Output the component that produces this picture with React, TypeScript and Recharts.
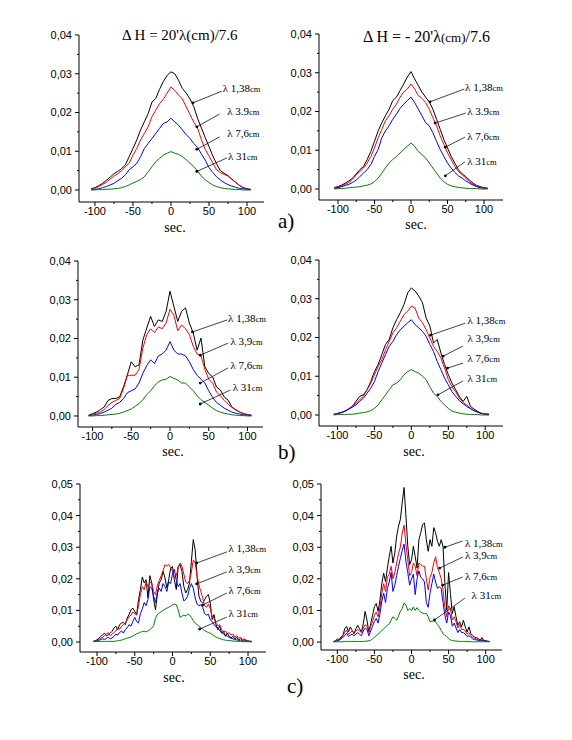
import React from 'react';
import { LineChart, Line, XAxis, YAxis, ReferenceLine, ReferenceDot } from 'recharts';

// time axis, seconds
const secFive = [
  -105, -100, -95, -90, -85, -80, -75, -70, -65, -60,
  -55, -50, -45, -40, -35, -30, -25, -20, -15, -10,
  -5, 0, 5, 10, 15, 20, 25, 30, 35, 40,
  45, 50, 55, 60, 65, 70, 75, 80, 85, 90,
  95, 100, 105,
];
const secHalf = [
  -105, -102.5, -100, -97.5, -95, -92.5, -90, -87.5, -85, -82.5,
  -80, -77.5, -75, -72.5, -70, -67.5, -65, -62.5, -60, -57.5,
  -55, -52.5, -50, -47.5, -45, -42.5, -40, -37.5, -35, -32.5,
  -30, -27.5, -25, -22.5, -20, -17.5, -15, -12.5, -10, -7.5,
  -5, -2.5, 0, 2.5, 5, 7.5, 10, 12.5, 15, 17.5,
  20, 22.5, 25, 27.5, 30, 32.5, 35, 37.5, 40, 42.5,
  45, 47.5, 50, 52.5, 55, 57.5, 60, 62.5, 65, 67.5,
  70, 72.5, 75, 77.5, 80, 82.5, 85, 87.5, 90, 92.5,
  95, 97.5, 100, 102.5, 105,
];

const xTicks = [-100, -75, -50, -25, 0, 25, 50, 75, 100];
const yTicks4 = [0, 0.005, 0.01, 0.015, 0.02, 0.025, 0.03, 0.035, 0.04];
const yTicks5 = [0, 0.005, 0.01, 0.015, 0.02, 0.025, 0.03, 0.035, 0.04, 0.045, 0.05];

// a) left, dH = 20'
const aL138 = [
  0.0003, 0.0006, 0.0011, 0.0017, 0.0025, 0.0033, 0.0042, 0.0048, 0.0055, 0.0065,
  0.0086, 0.0107, 0.0129, 0.0155, 0.0176, 0.0197, 0.0227, 0.0236, 0.026, 0.028,
  0.0296, 0.0305, 0.03, 0.0283, 0.0262, 0.025, 0.0235, 0.0215, 0.0185, 0.016,
  0.0136, 0.0112, 0.0088, 0.0068, 0.005, 0.0043, 0.0037, 0.0028, 0.002, 0.0012,
  0.0006, 0.0003, 0.0001,
];
const aL39 = [
  0.0003, 0.0005, 0.0009, 0.0014, 0.002, 0.0028, 0.0036, 0.0042, 0.005, 0.006,
  0.0069, 0.009, 0.0107, 0.0129, 0.0146, 0.0163, 0.0189, 0.0206, 0.0223, 0.0234,
  0.025, 0.0266, 0.0257, 0.0245, 0.0235, 0.0215, 0.0195, 0.0175, 0.016, 0.013,
  0.0105, 0.0088, 0.007, 0.0052, 0.0045, 0.004, 0.0036, 0.0028, 0.002, 0.0012,
  0.0006, 0.0003, 0.0002,
];
const aL76 = [
  0.0001, 0.0002, 0.0003, 0.0006, 0.0009, 0.0013, 0.0017, 0.0024, 0.003, 0.0039,
  0.0052, 0.006, 0.0069, 0.0086, 0.0107, 0.012, 0.0133, 0.0146, 0.0159, 0.0172,
  0.0176, 0.0185, 0.0176, 0.0167, 0.0155, 0.0143, 0.0133, 0.012, 0.011, 0.0093,
  0.0077, 0.0058, 0.0045, 0.0034, 0.0026, 0.0019, 0.0014, 0.001, 0.0007, 0.0004,
  0.0003, 0.0002, 0.0001,
];
const aL31 = [
  0, 0, 0.0001, 0.0001, 0.0002, 0.0002, 0.0003, 0.0004, 0.0006, 0.0009,
  0.0013, 0.0018, 0.0022, 0.0027, 0.0034, 0.0047, 0.006, 0.0073, 0.0082, 0.009,
  0.0095, 0.0099, 0.0095, 0.0092, 0.0086, 0.0078, 0.0069, 0.006, 0.0049, 0.0036,
  0.0026, 0.0019, 0.0013, 0.0009, 0.0006, 0.0004, 0.0003, 0.0002, 0.0001, 0.0001,
  0, 0, 0,
];

// a) right, dH = -20'
const aR138 = [
  0.0004, 0.0006, 0.001, 0.0015, 0.0021, 0.0028, 0.0039, 0.005, 0.0058, 0.0076,
  0.0097, 0.0123, 0.015, 0.0171, 0.0189, 0.0206, 0.0228, 0.0237, 0.0254, 0.0271,
  0.0289, 0.0303, 0.0284, 0.0267, 0.025, 0.0237, 0.0225, 0.0206, 0.018, 0.0154,
  0.0128, 0.0106, 0.0084, 0.0067, 0.005, 0.0039, 0.0032, 0.0023, 0.0015, 0.0009,
  0.0006, 0.0003, 0.0002,
];
const aR39 = [
  0.0002, 0.0004, 0.0008, 0.0012, 0.0017, 0.0025, 0.0037, 0.0045, 0.0054, 0.0067,
  0.0084, 0.0106, 0.0132, 0.0154, 0.0176, 0.0189, 0.0206, 0.0219, 0.0237, 0.025,
  0.0258, 0.0271, 0.0258, 0.0241, 0.0234, 0.0223, 0.0206, 0.0184, 0.0163, 0.0137,
  0.0115, 0.0093, 0.0076, 0.0058, 0.0045, 0.0037, 0.0028, 0.0019, 0.0012, 0.0008,
  0.0004, 0.0003, 0.0002,
];
const aR76 = [
  0.0001, 0.0003, 0.0006, 0.0009, 0.0012, 0.0017, 0.0023, 0.0032, 0.0041, 0.005,
  0.0063, 0.0084, 0.0102, 0.0132, 0.015, 0.0163, 0.018, 0.0193, 0.0208, 0.0219,
  0.0228, 0.0237, 0.0223, 0.0206, 0.0189, 0.0171, 0.0163, 0.0145, 0.0123, 0.0102,
  0.0084, 0.0067, 0.0054, 0.0043, 0.0034, 0.0028, 0.0021, 0.0015, 0.001, 0.0006,
  0.0003, 0.0002, 0.0001,
];
const aR31 = [
  0, 0.0001, 0.0001, 0.0002, 0.0003, 0.0004, 0.0005, 0.0006, 0.0008, 0.001,
  0.0013, 0.0019, 0.0028, 0.0041, 0.0054, 0.0067, 0.0076, 0.0084, 0.0093, 0.0102,
  0.011, 0.0119, 0.011, 0.0097, 0.0089, 0.008, 0.0067, 0.0054, 0.0041, 0.0028,
  0.0019, 0.0012, 0.0008, 0.0006, 0.0004, 0.0003, 0.0002, 0.0001, 0.0001, 0.0001,
  0, 0, 0,
];

// b) left
const bL138 = [
  0.0002, 0.0006, 0.001, 0.0016, 0.0023, 0.004, 0.0045, 0.0045, 0.0049, 0.0075,
  0.0106, 0.014, 0.0127, 0.0132, 0.0196, 0.0227, 0.0257, 0.0231, 0.0248, 0.0244,
  0.027, 0.0322, 0.0283, 0.0244, 0.027, 0.0279, 0.024, 0.0214, 0.017, 0.0201,
  0.0127, 0.011, 0.0101, 0.0075, 0.0067, 0.0049, 0.0041, 0.0023, 0.0016, 0.001,
  0.0006, 0.0003, 0.0002,
];
const bL39 = [
  0.0002, 0.0004, 0.0007, 0.001, 0.0016, 0.0027, 0.0035, 0.004, 0.0045, 0.007,
  0.0105, 0.0105, 0.0105, 0.012, 0.0175, 0.021, 0.0225, 0.0215, 0.023, 0.0225,
  0.024, 0.0275, 0.026, 0.022, 0.0235, 0.0225, 0.021, 0.018, 0.016, 0.0155,
  0.012, 0.0095, 0.0085, 0.0062, 0.0052, 0.004, 0.003, 0.0022, 0.0015, 0.001,
  0.0006, 0.0004, 0.0002,
];
const bL76 = [
  0.0001, 0.0002, 0.0004, 0.0006, 0.001, 0.0015, 0.002, 0.003, 0.0035, 0.0045,
  0.006, 0.0065, 0.007, 0.0085, 0.011, 0.013, 0.0145, 0.0135, 0.0155, 0.016,
  0.017, 0.0192, 0.017, 0.016, 0.016, 0.0155, 0.014, 0.012, 0.0105, 0.0095,
  0.0085, 0.0065, 0.0048, 0.0035, 0.0028, 0.002, 0.0015, 0.001, 0.0007, 0.0005,
  0.0003, 0.0002, 0.0001,
];
const bL31 = [
  0, 0, 0.0001, 0.0001, 0.0002, 0.0003, 0.0004, 0.0005, 0.0007, 0.001,
  0.0014, 0.0018, 0.0025, 0.0032, 0.0042, 0.0055, 0.0065, 0.0078, 0.0088, 0.0093,
  0.0095, 0.0102, 0.0097, 0.0093, 0.0085, 0.0085, 0.0075, 0.0065, 0.0052, 0.0042,
  0.0035, 0.0028, 0.002, 0.0014, 0.001, 0.0007, 0.0005, 0.0003, 0.0002, 0.0001,
  0.0001, 0, 0,
];

// b) right
const bR138 = [
  0.0002, 0.0004, 0.0006, 0.0009, 0.0015, 0.0022, 0.0035, 0.0048, 0.0052, 0.0065,
  0.0086, 0.0112, 0.013, 0.0156, 0.0182, 0.0195, 0.0225, 0.0246, 0.0264, 0.0285,
  0.0315, 0.0328, 0.032, 0.0307, 0.029, 0.025, 0.023, 0.0186, 0.0195, 0.016,
  0.013, 0.0104, 0.0082, 0.0065, 0.0048, 0.0035, 0.0048, 0.0022, 0.0015, 0.0009,
  0.0004, 0.0003, 0.0002,
];
const bR39 = [
  0.0002, 0.0004, 0.0007, 0.001, 0.0016, 0.0023, 0.003, 0.0039, 0.0048, 0.0065,
  0.0082, 0.0104, 0.0125, 0.0143, 0.0168, 0.019, 0.0212, 0.0225, 0.0242, 0.0259,
  0.0268, 0.0281, 0.0276, 0.025, 0.0238, 0.022, 0.0199, 0.0177, 0.0164, 0.0147,
  0.0121, 0.0091, 0.0073, 0.006, 0.0043, 0.0032, 0.0026, 0.0017, 0.0011, 0.0007,
  0.0004, 0.0003, 0.0002,
];
const bR76 = [
  0.0001, 0.0003, 0.0006, 0.001, 0.0015, 0.002, 0.0026, 0.0035, 0.0043, 0.0056,
  0.0069, 0.0086, 0.0112, 0.0134, 0.0156, 0.0177, 0.019, 0.0207, 0.022, 0.0229,
  0.0238, 0.0246, 0.0233, 0.0225, 0.0216, 0.0203, 0.0182, 0.0164, 0.0138, 0.0117,
  0.0095, 0.0078, 0.006, 0.0048, 0.0037, 0.0029, 0.0022, 0.0016, 0.0011, 0.0007,
  0.0004, 0.0002, 0.0001,
];
const bR31 = [
  0, 0.0001, 0.0001, 0.0001, 0.0002, 0.0002, 0.0003, 0.0005, 0.0006, 0.0008,
  0.0011, 0.0017, 0.0026, 0.0039, 0.0052, 0.0065, 0.0078, 0.0082, 0.0091, 0.0104,
  0.0112, 0.0117, 0.0112, 0.0108, 0.01, 0.0091, 0.0073, 0.0056, 0.0048, 0.0035,
  0.0026, 0.0017, 0.001, 0.0007, 0.0005, 0.0003, 0.0002, 0.0001, 0.0001, 0.0001,
  0, 0, 0,
];

// c) left
const cL138 = [
  0.0002, 0.0004, 0.0007, 0.0012, 0.0018, 0.0023, 0.0028, 0.002, 0.0023, 0.0028,
  0.0034, 0.0044, 0.005, 0.0039, 0.0055, 0.006, 0.0062, 0.0055, 0.0076, 0.0087,
  0.0102, 0.0107, 0.0097, 0.0087, 0.0134, 0.0166, 0.0206, 0.0187, 0.0197, 0.014,
  0.021, 0.0187, 0.0134, 0.0102, 0.0155, 0.0187, 0.0197, 0.0224, 0.0203, 0.0171,
  0.0197, 0.0234, 0.0239, 0.0197, 0.0166, 0.0239, 0.0245, 0.0224, 0.0176, 0.0155,
  0.0166, 0.0187, 0.0255, 0.0324, 0.0292, 0.0208, 0.0145, 0.0129, 0.0123, 0.0134,
  0.0145, 0.015, 0.0123, 0.0071, 0.0087, 0.0055, 0.0039, 0.005, 0.0028, 0.0034,
  0.0018, 0.0028, 0.0018, 0.0013, 0.0018, 0.001, 0.0015, 0.0007, 0.001, 0.0005,
  0.0007, 0.0004, 0.0003, 0.0002, 0.0002,
];
const cL39 = [
  0.0002, 0.0003, 0.0005, 0.0008, 0.0012, 0.0015, 0.002, 0.0025, 0.003, 0.002,
  0.0025, 0.003, 0.0035, 0.0045, 0.004, 0.005, 0.0055, 0.006, 0.007, 0.008,
  0.0085, 0.0095, 0.009, 0.0085, 0.0115, 0.015, 0.0175, 0.0165, 0.019, 0.0175,
  0.019, 0.0185, 0.016, 0.015, 0.018, 0.0195, 0.021, 0.0225, 0.0245, 0.024,
  0.0245, 0.0235, 0.0225, 0.02, 0.021, 0.0235, 0.025, 0.024, 0.0215, 0.019,
  0.0185, 0.0195, 0.022, 0.026, 0.025, 0.021, 0.018, 0.016, 0.014, 0.0115,
  0.011, 0.012, 0.0105, 0.008, 0.0075, 0.006, 0.005, 0.0055, 0.004, 0.003,
  0.0035, 0.0025, 0.003, 0.0022, 0.0025, 0.0015, 0.002, 0.0012, 0.0015, 0.0008,
  0.001, 0.0006, 0.0004, 0.0003, 0.0002,
];
const cL76 = [
  0.0001, 0.0002, 0.0003, 0.0005, 0.0008, 0.001, 0.0008, 0.0012, 0.0015, 0.001,
  0.0013, 0.0018, 0.0025, 0.0022, 0.003, 0.0035, 0.0028, 0.004, 0.0045, 0.0055,
  0.005, 0.0065, 0.0078, 0.0065, 0.006, 0.009, 0.0105, 0.0125, 0.0115, 0.0135,
  0.0175, 0.017, 0.0145, 0.0125, 0.0155, 0.017, 0.016, 0.0185, 0.0175, 0.016,
  0.019, 0.0185, 0.0215, 0.023, 0.0195, 0.0175, 0.0185, 0.0155, 0.013, 0.0135,
  0.0145, 0.017, 0.0185, 0.017, 0.014, 0.012, 0.0115, 0.0118, 0.011, 0.009,
  0.0085, 0.0088, 0.007, 0.0065, 0.0055, 0.0048, 0.0045, 0.0035, 0.003, 0.0025,
  0.0022, 0.0018, 0.0015, 0.0012, 0.001, 0.0008, 0.0007, 0.0005, 0.0004, 0.0003,
  0.0003, 0.0002, 0.0002, 0.0001, 0.0001,
];
const cL31 = [
  0.0002, 0.0002, 0.0002, 0.0002, 0.0002, 0.0002, 0.0002, 0.0002, 0.0002, 0.0002,
  0.0002, 0.0002, 0.0003, 0.0004, 0.0005, 0.0006, 0.0008, 0.001, 0.0012, 0.0014,
  0.0016, 0.0019, 0.0022, 0.0026, 0.0028, 0.0031, 0.0033, 0.0034, 0.0032, 0.0035,
  0.0039, 0.0044, 0.0052, 0.0075, 0.0088, 0.0092, 0.0096, 0.01, 0.0104, 0.0107,
  0.011, 0.0113, 0.0117, 0.012, 0.0118, 0.0102, 0.0078, 0.0082, 0.0085, 0.0082,
  0.0088, 0.0086, 0.0078, 0.0068, 0.006, 0.0055, 0.005, 0.0045, 0.004, 0.0036,
  0.0033, 0.003, 0.0028, 0.0024, 0.002, 0.0016, 0.0013, 0.0011, 0.0009, 0.0007,
  0.0006, 0.0005, 0.0004, 0.0004, 0.0003, 0.0003, 0.0002, 0.0002, 0.0002, 0.0001,
  0.0001, 0.0001, 0.0001, 0.0001, 0.0001,
];

// c) right
const cR138 = [
  0.0002, 0.0004, 0.001, 0.0008, 0.0016, 0.0021, 0.0042, 0.005, 0.0032, 0.0048,
  0.0037, 0.0026, 0.0042, 0.0053, 0.0042, 0.0032, 0.0058, 0.0097, 0.0069, 0.0032,
  0.0058, 0.0085, 0.0112, 0.0122, 0.0097, 0.0133, 0.0186, 0.0218, 0.0191, 0.0234,
  0.0271, 0.0303, 0.025, 0.0282, 0.0335, 0.0367, 0.0388, 0.0441, 0.0489, 0.0399,
  0.0303, 0.0245, 0.026, 0.0303, 0.0271, 0.0234, 0.0324, 0.0346, 0.0372, 0.0377,
  0.0324, 0.0287, 0.0324, 0.0303, 0.0362, 0.0346, 0.0319, 0.0303, 0.0324, 0.0303,
  0.0186, 0.0101, 0.022, 0.0154, 0.009, 0.0112, 0.008, 0.0053, 0.0064, 0.0048,
  0.0069, 0.0048, 0.0032, 0.0048, 0.0027, 0.0021, 0.0016, 0.0014, 0.0011, 0.0007,
  0.0014, 0.0005, 0.0005, 0.0003, 0.0002,
];
const cR39 = [
  0.0002, 0.0003, 0.0005, 0.0008, 0.0012, 0.002, 0.003, 0.0038, 0.0025, 0.003,
  0.0035, 0.003, 0.0035, 0.004, 0.0035, 0.003, 0.0045, 0.0055, 0.005, 0.003,
  0.005, 0.0065, 0.0085, 0.0095, 0.008, 0.011, 0.0155, 0.0185, 0.016, 0.0205,
  0.0215, 0.024, 0.02, 0.022, 0.025, 0.028, 0.03, 0.0345, 0.037, 0.031,
  0.026, 0.021, 0.022, 0.025, 0.024, 0.021, 0.025, 0.0245, 0.024, 0.024,
  0.02, 0.0165, 0.0205, 0.022, 0.025, 0.027, 0.0235, 0.022, 0.02, 0.0165,
  0.011, 0.008, 0.0115, 0.0105, 0.007, 0.008, 0.0065, 0.0045, 0.0055, 0.004,
  0.004, 0.0035, 0.0025, 0.003, 0.002, 0.0015, 0.0012, 0.001, 0.0008, 0.0006,
  0.0008, 0.0004, 0.0004, 0.0002, 0.0002,
];
const cR76 = [
  0.0001, 0.0002, 0.0004, 0.0006, 0.001, 0.0015, 0.002, 0.0028, 0.0018, 0.0022,
  0.0025, 0.002, 0.0025, 0.003, 0.0025, 0.002, 0.0035, 0.0045, 0.004, 0.002,
  0.0035, 0.005, 0.0065, 0.0075, 0.006, 0.009, 0.013, 0.0155, 0.0125, 0.017,
  0.019, 0.022, 0.016, 0.018, 0.021, 0.024, 0.0265, 0.029, 0.031, 0.0255,
  0.022, 0.018, 0.02, 0.0215, 0.015, 0.02, 0.0225, 0.0205, 0.02, 0.019,
  0.0125, 0.011, 0.0155, 0.0185, 0.0215, 0.019, 0.017, 0.0175, 0.017, 0.0125,
  0.0085, 0.006, 0.0095, 0.0085, 0.005, 0.006, 0.0045, 0.003, 0.004, 0.003,
  0.003, 0.0025, 0.0018, 0.002, 0.0015, 0.001, 0.0008, 0.0007, 0.0005, 0.0004,
  0.0006, 0.0003, 0.0003, 0.0002, 0.0001,
];
const cR31 = [
  0.0001, 0.0001, 0.0001, 0.0001, 0.0001, 0.0001, 0.0002, 0.0002, 0.0002, 0.0002,
  0.0002, 0.0002, 0.0002, 0.0002, 0.0002, 0.0002, 0.0002, 0.0003, 0.0003, 0.0004,
  0.0006, 0.001, 0.0016, 0.002, 0.0025, 0.003, 0.0037, 0.0042, 0.0048, 0.0053,
  0.0058, 0.0069, 0.008, 0.0075, 0.0069, 0.0083, 0.0097, 0.0106, 0.0124, 0.0117,
  0.01, 0.0106, 0.01, 0.0111, 0.01, 0.0109, 0.01, 0.0095, 0.0092, 0.009,
  0.009, 0.008, 0.0064, 0.0066, 0.0067, 0.0064, 0.0056, 0.0048, 0.0037, 0.0027,
  0.0021, 0.0018, 0.0011, 0.0007, 0.0005, 0.0004, 0.0003, 0.0003, 0.0002, 0.0002,
  0.0002, 0.0002, 0.0002, 0.0002, 0.0001, 0.0001, 0.0001, 0.0001, 0.0001, 0.0001,
  0.0001, 0.0001, 0.0001, 0.0001, 0.0001,
];

// wavelength labels with leader lines: [text, label x, label y, line from x, y, to x, y]
type Note = [string, number, number, number, number, number, number];
const notesAL: Note[] = [
  ['1,38', 68, 0.0253, 67, 0.0255, 29, 0.0225],
  ['3.9', 74, 0.0194, 64, 0.0196, 34, 0.0163],
  ['7,6', 74, 0.0137, 64, 0.0137, 34, 0.0105],
  ['31', 75, 0.0077, 74, 0.0083, 34, 0.0048],
];
const notesAR: Note[] = [
  ['1,38', 74, 0.0253, 73, 0.0258, 26, 0.0225],
  ['3.9', 77, 0.0191, 75, 0.0196, 33, 0.017],
  ['7,6', 77, 0.0126, 74, 0.0134, 47, 0.0108],
  ['31', 77, 0.0062, 74, 0.007, 47, 0.0034],
];
const notesBL: Note[] = [
  ['1,38', 75, 0.0243, 74, 0.0248, 29, 0.0217],
  ['3,9', 78, 0.0183, 75, 0.0188, 39, 0.0157],
  ['7,6', 78, 0.0121, 75, 0.0124, 39, 0.0085],
  ['31', 81, 0.0065, 78, 0.0067, 39, 0.0031],
];
const notesBR: Note[] = [
  ['1,38', 76, 0.0235, 73, 0.0237, 26, 0.0206],
  ['3,9', 76, 0.0188, 70, 0.0178, 43, 0.0152],
  ['7,6', 76, 0.0137, 70, 0.0134, 49, 0.0121],
  ['31', 76, 0.0085, 70, 0.0088, 36, 0.0052],
];
const notesCL: Note[] = [
  ['1,38', 74, 0.0285, 72, 0.0285, 32, 0.025],
  ['3,9', 74, 0.0218, 72, 0.0222, 32, 0.0184],
  ['7,6', 74, 0.0152, 72, 0.0155, 40, 0.0117],
  ['31', 74, 0.0079, 72, 0.0079, 36, 0.0041],
];
const notesCR: Note[] = [
  ['1,38', 72, 0.03, 69, 0.032, 45, 0.03],
  ['3,9', 72, 0.0263, 69, 0.0269, 38, 0.0234],
  ['7,6', 72, 0.0196, 69, 0.0206, 42, 0.018],
  ['31', 81, 0.0136, 72, 0.0139, 31, 0.007],
];

const SERIES = [
  { key: 'l138', color: '#000000' },
  { key: 'l39', color: '#ff0000' },
  { key: 'l76', color: '#0000ff' },
  { key: 'l31', color: '#008000' },
];

const SANS = '"Liberation Sans", Arial, sans-serif';
const SERIF = '"Liberation Serif", "Times New Roman", serif';
const Y_W = 60;
const X_H = 30;
const TOP = 10;
const RIGHT = 8;

function toRows(name: string, sec: number[], cols: number[][]) {
  cols.forEach((c, k) => {
    if (c.length !== sec.length) throw new Error(`${name} series ${k}: ${c.length} values, expected ${sec.length}`);
  });
  return sec.map((s, i) => ({ s, l138: cols[0][i], l39: cols[1][i], l76: cols[2][i], l31: cols[3][i] }));
}

const XTick = (p: any) => {
  const v = p.payload.value;
  const major = v % 50 === 0;
  return (
    <g>
      <line x1={p.x} x2={p.x} y1={p.y} y2={p.y + (major ? 4 : 2)} stroke="#000" />
      {major && (
        <text x={p.x} y={p.y + 12.5} textAnchor="middle" fontSize={11} fontFamily={SANS} fill="#000">
          {v}
        </text>
      )}
    </g>
  );
};

const YTick = (p: any) => {
  const v = p.payload.value;
  const major = Math.abs(v * 100 - Math.round(v * 100)) < 1e-6;
  return (
    <g>
      <line x1={p.x} x2={p.x - (major ? 4 : 2)} y1={p.y} y2={p.y} stroke="#000" />
      {major && (
        <text x={p.x - 7} y={p.y + 4} textAnchor="end" fontSize={11} fontFamily={SANS} fill="#000">
          {v.toFixed(2).replace('.', ',')}
        </text>
      )}
    </g>
  );
};

type Box = { x0: number; x1: number; y0: number; y1: number };

function Panel({ name, box, sec, cols, xDomain, yDomain, yTicks, notes }: {
  name: string; box: Box; sec: number[]; cols: number[][];
  xDomain: [number, number]; yDomain: [number, number]; yTicks: number[]; notes: Note[];
}) {
  const data = toRows(name, sec, cols);
  const width = box.x1 - box.x0 + Y_W + RIGHT;
  const height = box.y1 - box.y0 + TOP + X_H;
  return (
    <div style={{ position: 'absolute', left: box.x0 - Y_W, top: box.y0 - TOP }}>
      <LineChart width={width} height={height} data={data} margin={{ top: TOP, right: RIGHT, bottom: 0, left: 0 }}>
        <XAxis
          dataKey="s"
          type="number"
          domain={xDomain}
          ticks={xTicks}
          interval={0}
          allowDataOverflow
          height={X_H}
          tickSize={0}
          tickMargin={0}
          tickLine={false}
          axisLine={{ stroke: '#000' }}
          tick={(p: any) => <XTick {...p} />}
        />
        <YAxis
          type="number"
          domain={yDomain}
          ticks={yTicks}
          interval={0}
          allowDataOverflow
          width={Y_W}
          tickSize={0}
          tickMargin={0}
          tickLine={false}
          axisLine={{ stroke: '#000' }}
          tick={(p: any) => <YTick {...p} />}
        />
        {SERIES.map((s) => (
          <Line
            key={s.key}
            dataKey={s.key}
            type="linear"
            stroke={s.color}
            strokeWidth={1}
            dot={false}
            isAnimationActive={false}
          />
        ))}
        {notes.flatMap((n, i) => [
          <ReferenceLine
            key={`l${i}`}
            segment={[{ x: n[3], y: n[4] }, { x: n[5], y: n[6] }]}
            stroke="#111"
            strokeWidth={0.8}
            ifOverflow="visible"
          />,
          <ReferenceDot key={`d${i}`} x={n[5]} y={n[6]} r={1.4} fill="#000" stroke="none" ifOverflow="visible" />,
          <ReferenceDot
            key={`t${i}`}
            x={n[1]}
            y={n[2]}
            r={0}
            ifOverflow="visible"
            shape={(p: any) => (
              <text x={p.cx} y={p.cy} fontFamily={SERIF} fontSize={11} fill="#000">
                λ {n[0]}
                <tspan fontSize={8.5}>cm</tspan>
              </text>
            )}
          />,
        ])}
      </LineChart>
    </div>
  );
}

export default function App() {
  return (
    <div style={{ position: 'absolute', left: 0, top: 0, width: 572, height: 740, background: '#fff' }}>
      <Panel name="aL" box={{ x0: 79, x1: 264, y0: 35, y1: 202 }} sec={secFive} cols={[aL138, aL39, aL76, aL31]}
        xDomain={[-121, 122.4]} yDomain={[-0.0031, 0.04]} yTicks={yTicks4} notes={notesAL} />
      <Panel name="aR" box={{ x0: 319, x1: 503, y0: 34, y1: 200 }} sec={secFive} cols={[aR138, aR39, aR76, aR31]}
        xDomain={[-126, 126]} yDomain={[-0.00284, 0.04]} yTicks={yTicks4} notes={notesAR} />
      <Panel name="bL" box={{ x0: 78, x1: 263, y0: 261, y1: 427 }} sec={secFive} cols={[bL138, bL39, bL76, bL31]}
        xDomain={[-118.7, 120]} yDomain={[-0.00284, 0.04]} yTicks={yTicks4} notes={notesBL} />
      <Panel name="bR" box={{ x0: 319, x1: 503, y0: 260, y1: 426 }} sec={secFive} cols={[bR138, bR39, bR76, bR31]}
        xDomain={[-125, 124]} yDomain={[-0.00284, 0.04]} yTicks={yTicks4} notes={notesBR} />
      <Panel name="cL" box={{ x0: 80, x1: 266, y0: 484, y1: 652 }} sec={secHalf} cols={[cL138, cL39, cL76, cL31]}
        xDomain={[-122.5, 123.8]} yDomain={[-0.00316, 0.05]} yTicks={yTicks5} notes={notesCL} />
      <Panel name="cR" box={{ x0: 321, x1: 502, y0: 484, y1: 650 }} sec={secHalf} cols={[cR138, cR39, cR76, cR31]}
        xDomain={[-122, 122]} yDomain={[-0.0025, 0.05]} yTicks={yTicks5} notes={notesCR} />

      <svg width={572} height={740} style={{ position: 'absolute', left: 0, top: 0, pointerEvents: 'none' }}>
        <g fontFamily={SERIF} fill="#000">
          <text x={122} y={40} fontSize={15}>Δ H = 20'λ(cm)/7.6</text>
          <text x={363} y={42} fontSize={16}>
            Δ H = - 20'λ<tspan fontSize={13}>(cm)</tspan>/7.6
          </text>
          <text x={278} y={228} fontSize={21}>a)</text>
          <text x={278} y={459} fontSize={21}>b)</text>
          <text x={287} y={693} fontSize={21}>c)</text>
          <text x={175} y={231.5} fontSize={14} textAnchor="middle">sec.</text>
          <text x={416} y={228.5} fontSize={14} textAnchor="middle">sec.</text>
          <text x={173} y={455.5} fontSize={14} textAnchor="middle">sec.</text>
          <text x={414} y={455.5} fontSize={14} textAnchor="middle">sec.</text>
          <text x={174} y={681.5} fontSize={14} textAnchor="middle">sec.</text>
          <text x={414} y={678.5} fontSize={14} textAnchor="middle">sec.</text>
        </g>
      </svg>
    </div>
  );
}
